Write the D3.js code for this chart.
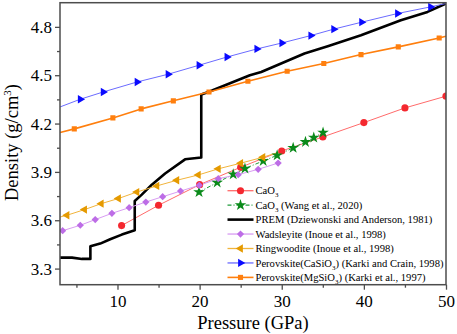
<!DOCTYPE html>
<html>
<head>
<meta charset="utf-8">
<script src="https://cdn.jsdelivr.net/npm/d3@7"></script>
<style>
  body { margin: 0; background: #fff; }
  svg { display: block; }
</style>
</head>
<body>
<svg id="chart" width="457" height="334"></svg>
<script>
// ---- data (pressure GPa, density g/cm3) ----
const caoP = [10.5, 15, 20, 25, 30, 35, 40, 45, 50];
const caoD = [3.567, 3.693, 3.821, 3.929, 4.03, 4.117, 4.206, 4.297, 4.37];

const wangP = [19.93, 22.14, 24.09, 25.52, 27.74, 29.44, 31.39, 32.89, 33.9, 35.03];
const wangD = [3.775, 3.834, 3.885, 3.921, 3.968, 4.003, 4.049, 4.086, 4.113, 4.144];

const premP = [3, 4.46, 5.67, 6.7, 6.7, 7.9, 9.11, 10.53, 12.1, 12.1, 12.96, 14.18, 15.8, 18.23,
  20.2, 20.2, 21.06, 26.12, 27.5, 32.77, 35.6, 39.65, 44.5, 47.75, 50];
const premD = [3.368, 3.368, 3.36, 3.36, 3.438, 3.455, 3.482, 3.511, 3.538, 3.72, 3.759, 3.821, 3.89, 3.978,
  3.989, 4.38, 4.396, 4.5, 4.52, 4.635, 4.68, 4.748, 4.841, 4.893, 4.945];

const wadsP = [3.32, 5.47, 7.29, 9.32, 11.42, 13.45, 15.5, 17.68, 19.96, 22.27, 24.7, 27.13, 29.56];
const wadsD = [3.535, 3.569, 3.604, 3.643, 3.678, 3.713, 3.746, 3.781, 3.817, 3.858, 3.883, 3.916, 3.955];

const ringP = [3, 3.85, 5.99, 8.02, 10.12, 12.36, 14.79, 17.22, 19.84, 22.27, 25.0, 27.7, 29.7];
const ringD = [3.62, 3.631, 3.666, 3.703, 3.735, 3.775, 3.813, 3.848, 3.881, 3.919, 3.954, 3.991, 4.023];

const casiP = [3, 5.47, 8.26, 12.39, 16.16, 19.93, 23.33, 26.97, 30.01, 33.54, 36.33, 39.73, 44.1, 48.12, 50];
const casiD = [4.303, 4.351, 4.396, 4.458, 4.506, 4.562, 4.613, 4.663, 4.7, 4.746, 4.786, 4.829, 4.883, 4.924, 4.945];

const mgsiP = [3, 4.74, 9.44, 12.88, 16.8, 21.14, 25.88, 30.66, 35.12, 39.65, 44.19, 49.17, 50];
const mgsiD = [4.144, 4.167, 4.235, 4.291, 4.341, 4.396, 4.463, 4.525, 4.573, 4.628, 4.676, 4.731, 4.742];

const xTicks = [10, 20, 30, 40, 50];
const xMinor = [5, 15, 25, 35, 45];
const yTicks = [3.3, 3.6, 3.9, 4.2, 4.5, 4.8];
const yMinor = [3.45, 3.75, 4.05, 4.35, 4.65];

const zip = (ps, ds) => ps.map((p, i) => ({ p: p, d: ds[i] }));

// label parts: [text, "sub"|null]
const series = [
  { label: [["CaO", null], ["3", "sub"]], pts: zip(caoP, caoD), line: "#ff6b6b", lw: 1, dash: null,
    shape: "circle", fill: "#f4282f", size: 40, ends: true },
  { label: [["CaO", null], ["3", "sub"], [" (Wang et al., 2020)", null]], pts: zip(wangP, wangD), line: "#1f9a3a", lw: 1, dash: "4,2,1,2",
    shape: "star", fill: "#0a8a1a", size: 42, ends: true },
  { label: [["PREM (Dziewonski and Anderson, 1981)", null]], pts: zip(premP, premD), line: "#000", lw: 2.6, dash: null,
    shape: null },
  { label: [["Wadsleyite (Inoue et al., 1998)", null]], pts: zip(wadsP, wadsD), line: "#d89cf2", lw: 1, dash: null,
    shape: "diamond", fill: "#bd6de6", size: 26, ends: true },
  { label: [["Ringwoodite (Inoue et al., 1998)", null]], pts: zip(ringP, ringD), line: "#f1b43c", lw: 1, dash: null,
    shape: "left", fill: "#e59a00", size: 30, ends: false },
  { label: [["Perovskite(CaSiO", null], ["3", "sub"], [") (Karki and Crain, 1998)", null]], pts: zip(casiP, casiD), line: "#6b6bff", lw: 1, dash: null,
    shape: "right", fill: "#0a0aff", size: 30, ends: false },
  { label: [["Perovskite(MgSiO", null], ["3", "sub"], [") (Karki et al., 1997)", null]], pts: zip(mgsiP, mgsiD), line: "#ff7f0e", lw: 1.6, dash: null,
    shape: "square", fill: "#ff7f0e", size: 26, ends: false }
];

const FONT = '"Liberation Serif"';
const W = 457, H = 334;
const margin = { left: 60, right: 11, top: 2.7, bottom: 49.3 };
const iw = W - margin.left - margin.right;
const ih = H - margin.top - margin.bottom;

const svg = d3.select("#chart").style("font-family", FONT);
const g = svg.append("g").attr("transform", `translate(${margin.left},${margin.top})`);

const x = d3.scaleLinear().domain([3, 50]).range([0, iw]);
const y = d3.scaleLinear().domain([3.2, 4.95]).range([ih, 0]);

g.append("clipPath").attr("id", "clip")
  .append("rect").attr("width", iw).attr("height", ih);

function symbolPath(shape, size) {
  if (shape === "circle") return d3.symbol(d3.symbolCircle, size)();
  if (shape === "star") return d3.symbol(d3.symbolStar, size)();
  if (shape === "square" || shape === "diamond") return d3.symbol(d3.symbolSquare, size)();
  return d3.symbol(d3.symbolTriangle, size)();
}
function symbolRotate(shape) {
  if (shape === "diamond") return 45;
  if (shape === "left") return -90;
  if (shape === "right") return 90;
  return 0;
}

const plot = g.append("g").attr("clip-path", "url(#clip)");
const lineGen = d3.line().x((d) => x(d.p)).y((d) => y(d.d));

// lines
plot
  .selectAll("path.series")
  .data(series)
  .enter()
  .append("path")
  .attr("class", "series")
  .attr("d", (s) => lineGen(s.pts))
  .attr("fill", "none")
  .attr("stroke", (s) => s.line)
  .attr("stroke-width", (s) => s.lw)
  .attr("stroke-dasharray", (s) => s.dash)
  .attr("stroke-linejoin", "round");

// markers (ends=false: line runs to the axis, no marker there)
series.forEach((s) => {
  if (!s.shape) return;
  const pts = s.ends ? s.pts : s.pts.slice(1, -1);
  plot
    .selectAll(null)
    .data(pts)
    .enter()
    .append("path")
    .attr("d", symbolPath(s.shape, s.size))
    .attr("transform", (d) => `translate(${x(d.p)},${y(d.d)}) rotate(${symbolRotate(s.shape)})`)
    .attr("fill", s.fill);
});

// axes
const axisColor = "#4d4d4d";
const xAxis = g.append("g").attr("transform", `translate(0,${ih})`)
  .call(d3.axisBottom(x).tickValues(xTicks).tickSize(5).tickPadding(5).tickFormat(d3.format("d")));
const xMin = g.append("g").attr("transform", `translate(0,${ih})`)
  .call(d3.axisBottom(x).tickValues(xMinor).tickSize(3).tickFormat(""));
const yAxis = g.append("g")
  .call(d3.axisLeft(y).tickValues(yTicks).tickSize(5).tickPadding(3).tickFormat(d3.format(".1f")));
const yMin = g.append("g")
  .call(d3.axisLeft(y).tickValues(yMinor).tickSize(3).tickFormat(""));

[xAxis, xMin, yAxis, yMin].forEach((a) => {
  a.attr("font-family", null);
  a.select(".domain").remove();
  a.selectAll("line").attr("stroke", axisColor).attr("stroke-width", 1.3);
  a.selectAll("text").style("font-family", FONT).attr("font-size", 17).attr("fill", "#000");
});

g.append("rect")
  .attr("width", iw).attr("height", ih)
  .attr("fill", "none")
  .attr("stroke", axisColor)
  .attr("stroke-width", 1.5);

// axis titles
svg.append("text")
  .attr("x", margin.left + iw / 2)
  .attr("y", 329)
  .attr("text-anchor", "middle")
  .style("font-family", FONT)
  .attr("font-size", 18.5)
  .text("Pressure (GPa)");

const yt = svg.append("text")
  .attr("transform", "translate(18,142.5) rotate(-90)")
  .attr("text-anchor", "middle")
  .style("font-family", FONT)
  .attr("font-size", 18.5);
yt.append("tspan").text("Density (g/cm");
yt.append("tspan").attr("font-size", 11).attr("dy", -7).text("3");
yt.append("tspan").attr("dy", 7).text(")");

// legend
const legend = g.append("g").attr("transform", "translate(167.5,188)");
const rowH = 14.45;
const rows = legend
  .selectAll("g.row")
  .data(series)
  .enter()
  .append("g")
  .attr("class", "row")
  .attr("transform", (d, i) => `translate(0,${i * rowH})`);

rows.append("line")
  .attr("x1", 0).attr("x2", 26)
  .attr("stroke", (s) => s.line)
  .attr("stroke-width", (s) => Math.max(s.lw, 1.3))
  .attr("stroke-dasharray", (s) => s.dash);

rows.filter((s) => s.shape)
  .append("path")
  .attr("d", (s) => symbolPath(s.shape, s.size))
  .attr("transform", (s) => `translate(13,0) rotate(${symbolRotate(s.shape)})`)
  .attr("fill", (s) => s.fill);

rows.each(function (s) {
  const t = d3.select(this).append("text")
    .attr("x", 28)
    .attr("y", 0)
    .attr("dy", "0.35em")
    .style("font-family", FONT)
    .attr("font-size", 10.6);
  let prevSub = false;
  s.label.forEach((part) => {
    const ts = t.append("tspan").text(part[0]);
    if (part[1] === "sub") ts.attr("font-size", 7).attr("dy", 3);
    else if (prevSub) ts.attr("dy", -3);
    prevSub = part[1] === "sub";
  });
});
</script>
</body>
</html>
